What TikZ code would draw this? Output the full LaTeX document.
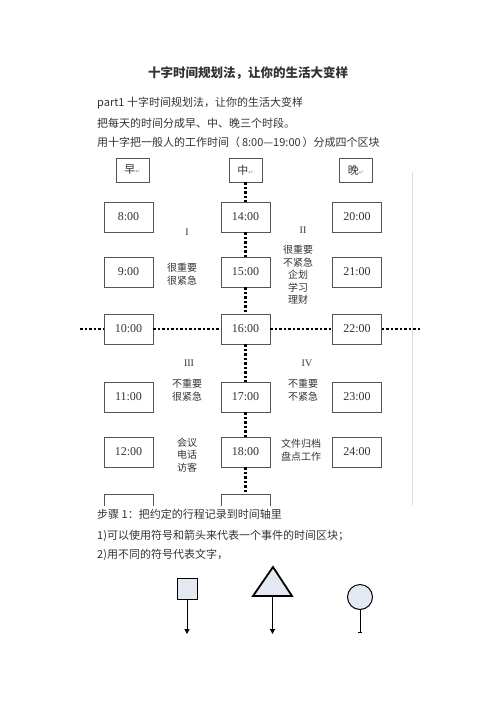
\documentclass[tikz,border=0pt]{standalone}
\usepackage{fontspec}
\setmainfont{Noto Sans CJK SC}
\newfontfamily\timefont{Liberation Serif}
\newfontfamily\symfont{DejaVu Sans}
\usetikzlibrary{
  arrows.meta,
  positioning,
  shapes.geometric
}
\definecolor{ttText}{HTML}{333333}
\definecolor{ttBox}{HTML}{555555}
\definecolor{ttFill}{HTML}{E4E8F2}
\definecolor{ttEdge}{HTML}{DDDDDD}
\newcommand{\pmark}{{\symfont\fontsize{6}{6}\selectfont\color{black!45}↵}}
\tikzset{
  headbox/.style={
    draw=ttBox, line width=0.8pt, minimum width=33pt, minimum height=24pt,
    inner sep=0pt, font=\fontsize{11}{11}\selectfont, text=ttText
  },
  timebox/.style={
    draw=ttBox, line width=0.8pt, minimum width=49pt, minimum height=30pt,
    inner sep=0pt, font=\timefont\fontsize{12}{12}\selectfont, text=ttText
  },
  quadlabel/.style={font=\timefont\fontsize{10}{10}\selectfont, text=ttText},
  note/.style={font=\fontsize{10}{12.5}\selectfont, align=center, text=ttText},
  textline/.style={anchor=west, inner sep=0pt, font=\fontsize{11}{11}\selectfont, text=ttText},
  crossline/.style={line width=2.2pt, dash pattern=on 2.5pt off 2pt},
  symbolshape/.style={draw=black, fill=ttFill, line width=1pt},
  marker/.style={-{Triangle[length=5pt, width=5pt]}, line width=1pt}
}
\begin{document}
\begin{tikzpicture}[x=1pt, y=-1pt]
  \useasboundingbox[fill=white] (0,0) rectangle (496,702);

  % heading and intro text
  \node[font=\bfseries\fontsize{12.5}{12.5}\selectfont, text=ttText] (title) at (248,73) {十字时间规划法，让你的生活大变样};
  \node[textline] (intro) at (97,103) {part1 十字时间规划法，让你的生活大变样};
  \node[textline] (split) at (97,123) {把每天的时间分成早、中、晚三个时段。};
  \node[textline] (cross) at (97,142) {用十字把一般人的工作时间（\,8:00—19:00\,）分成四个区块};

  % the cross diagram
  \begin{scope}
    \clip (60,150) rectangle (440,505);
    \draw[ttEdge, line width=1pt] (412,172) -- (412,505);
    \node[headbox] (morning) at (132.5,170) {早\pmark};
    \node[headbox] (noon) at (245.5,170) {中\pmark};
    \node[headbox] (evening) at (356,170) {晚\pmark};

    \node[timebox] (t8) at (128.5,217) {8:00};
    \node[timebox] (t9) at (128.5,272) {9:00};
    \node[timebox] (t10) at (128.5,329) {10:00};
    \node[timebox] (t11) at (128.5,397) {11:00};
    \node[timebox] (t12) at (128.5,452) {12:00};
    \node[timebox] (t13) at (128.5,509) {};

    \node[timebox] (t14) at (245.5,217) {14:00};
    \node[timebox] (t15) at (245.5,272) {15:00};
    \node[timebox] (t16) at (245.5,329) {16:00};
    \node[timebox] (t17) at (245.5,397) {17:00};
    \node[timebox] (t18) at (245.5,452) {18:00};
    \node[timebox] (t19) at (245.5,509) {};

    \node[timebox] (t20) at (357,217) {20:00};
    \node[timebox] (t21) at (357,272) {21:00};
    \node[timebox] (t22) at (357,329) {22:00};
    \node[timebox] (t23) at (357,397) {23:00};
    \node[timebox] (t24) at (357,452) {24:00};

    % quadrant labels
    \node[quadlabel] (q1) at (187,232) {I};
    \node[note] (q1note) at (182,274) {很重要\\很紧急};
    \node[quadlabel] (q2) at (303,230) {II};
    \node[note] (q2note) at (298,275) {很重要\\不紧急\\企划\\学习\\理财};
    \node[quadlabel] (q3) at (189,363) {III};
    \node[note] (q3note) at (187,390) {不重要\\很紧急};
    \node[note] (q3task) at (187,455) {会议\\电话\\访客};
    \node[quadlabel] (q4) at (307,363) {IV};
    \node[note] (q4note) at (303,390) {不重要\\不紧急};
    \node[note] (q4task) at (301,450) {文件归档\\盘点工作};

    % dotted cross
    \coordinate (hleft) at (80,329);
    \coordinate (hright) at (420,329);
    \draw[crossline] (noon) -- (t14);
    \draw[crossline] (t14) -- (t15);
    \draw[crossline] (t15) -- (t16);
    \draw[crossline] (t16) -- (t17);
    \draw[crossline] (t17) -- (t18);
    \draw[crossline] (t18) -- (t19);
    \draw[crossline] (hleft) -- (t10.west);
    \draw[crossline] (t10.east) -- (t16.west);
    \draw[crossline] (t16.east) -- (t22.west);
    \draw[crossline] (t22.east) -- (hright);
  \end{scope}

  % step text
  \node[textline] (step) at (97,514) {步骤 1：把约定的行程记录到时间轴里};
  \node[textline] (tip1) at (97,536) {1)可以使用符号和箭头来代表一个事件的时间区块；};
  \node[textline] (tip2) at (97,555) {2)用不同的符号代表文字，};

  % symbols
  \node[symbolshape, minimum width=20pt, minimum height=21pt, inner sep=0pt] (square) at (187,588.5) {};
  \coordinate (squareend) at (187,634);
  \draw[marker] (square.south) -- (squareend);

  \coordinate (tribase) at (272.5,596);
  \coordinate (triend) at (272.5,634);
  \draw[symbolshape, line width=1.8pt, line join=miter] (253,596) -- (273,567) -- (292,596) -- cycle;
  \draw[marker, line width=1.6pt] (tribase) -- (triend);

  \node[symbolshape, circle, minimum size=25pt, inner sep=0pt] (ring) at (360,597) {};
  \coordinate (ringend) at (360,633);
  \draw[-{Bar[width=4pt]}, line width=1pt] (ring.south) -- (ringend);
\end{tikzpicture}
\end{document}
